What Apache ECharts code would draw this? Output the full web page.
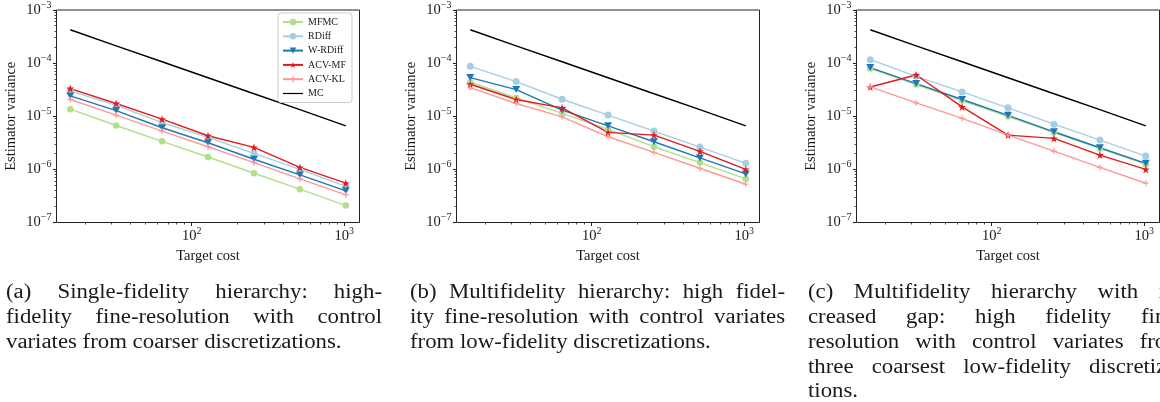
<!DOCTYPE html>
<html>
<head>
<meta charset="utf-8">
<script src="https://cdn.jsdelivr.net/npm/echarts/dist/echarts.min.js"></script>
<style>
html,body{margin:0;padding:0;background:#fff;}
#chart{width:1160px;height:402px;}
</style>
</head>
<body>
<div id="chart"></div>
<script>
// ---------------- data ----------------
const cost = [16, 32, 64, 128, 256, 512, 1024];
const seriesNames = ['MFMC', 'RDiff', 'W-RDiff', 'ACV-MF', 'ACV-KL', 'MC'];

// (a) single-fidelity hierarchy
const mfmcA   = [1.36e-5, 6.7e-6, 3.37e-6, 1.71e-6, 8.45e-7, 4.24e-7, 2.08e-7];
const rdiffA  = [3.0e-5, 1.6e-5, 7.6e-6, 4.0e-6, 2.0e-6, 1.0e-6, 4.8e-7];
const wrdiffA = [2.41e-5, 1.28e-5, 6.07e-6, 3.17e-6, 1.55e-6, 7.85e-7, 3.94e-7];
const acvmfA  = [3.32e-5, 1.74e-5, 8.8e-6, 4.29e-6, 2.6e-6, 1.09e-6, 5.5e-7];
const acvklA  = [2.07e-5, 1.05e-5, 5.25e-6, 2.67e-6, 1.34e-6, 6.6e-7, 3.31e-7];
const mcA     = [4.25e-4, 2.12e-4, 1.06e-4, 5.3e-5, 2.65e-5, 1.33e-5, 6.6e-6];

// (b) multifidelity hierarchy
const mfmcB   = [4.36e-5, 2.21e-5, 1.13e-5, 5.65e-6, 2.67e-6, 1.34e-6, 6.6e-7];
const rdiffB  = [8.7e-5, 4.5e-5, 2.09e-5, 1.05e-5, 5.25e-6, 2.63e-6, 1.30e-6];
const wrdiffB = [5.35e-5, 3.18e-5, 1.30e-5, 6.6e-6, 3.31e-6, 1.64e-6, 8.2e-7];
const acvmfB  = [4.0e-5, 2.07e-5, 1.44e-5, 4.97e-6, 4.42e-6, 2.19e-6, 1.0e-6];
const acvklB  = [3.47e-5, 1.74e-5, 9.75e-6, 4.11e-6, 2.09e-6, 1.05e-6, 5.25e-7];
const mcB     = [4.25e-4, 2.12e-4, 1.06e-4, 5.3e-5, 2.65e-5, 1.33e-5, 6.6e-6];

// (c) multifidelity hierarchy with increased gap
const mfmcC   = [7.9e-5, 3.95e-5, 1.98e-5, 9.9e-6, 4.95e-6, 2.48e-6, 1.24e-6];
const rdiffC  = [1.16e-4, 5.65e-5, 2.87e-5, 1.44e-5, 7.1e-6, 3.56e-6, 1.78e-6];
const wrdiffC = [8.24e-5, 4.12e-5, 2.07e-5, 1.04e-5, 5.1e-6, 2.55e-6, 1.30e-6];
const acvmfC  = [3.56e-5, 5.98e-5, 1.5e-5, 4.42e-6, 3.83e-6, 1.86e-6, 1.0e-6];
const acvklC  = [3.56e-5, 1.78e-5, 9.1e-6, 4.42e-6, 2.21e-6, 1.09e-6, 5.48e-7];
const mcC     = [4.25e-4, 2.12e-4, 1.06e-4, 5.3e-5, 2.65e-5, 1.33e-5, 6.6e-6];

// axis ranges and ticks
const xRange = [13.0, 1259];
const yRange = [1e-7, 1e-3];
const xMajorTicks = [100, 1000];
const xMinorTicks = [20, 30, 40, 50, 60, 70, 80, 90, 200, 300, 400, 500, 600, 700, 800, 900];
const yMajorTicks = [1e-7, 1e-6, 1e-5, 1e-4, 1e-3];
const yMinorTicks = [];
[-7, -6, -5, -4].forEach(e => { for (let k = 2; k <= 9; k++) yMinorTicks.push(k * Math.pow(10, e)); });

const xTitle = 'Target cost';
const yTitle = 'Estimator variance';

const captions = [
  ['(a) Single-fidelity hierarchy:  high-', 'fidelity fine-resolution with control', 'variates from coarser discretizations.'],
  ['(b) Multifidelity hierarchy: high fidel-', 'ity fine-resolution with control variates', 'from low-fidelity discretizations.'],
  ['(c) Multifidelity hierarchy with in-', 'creased gap:  high fidelity fine-', 'resolution with control variates from', 'three coarsest low-fidelity discretiza-', 'tions.']
];

const panels = [
  [mfmcA, rdiffA, wrdiffA, acvmfA, acvklA, mcA],
  [mfmcB, rdiffB, wrdiffB, acvmfB, acvklB, mcB],
  [mfmcC, rdiffC, wrdiffC, acvmfC, acvklC, mcC]
];

// ---------------- styling ----------------
const colors = ['#b2df8a', '#a6cee3', '#1f78b4', '#e31a1c', '#fb9a99', '#000000'];
const STAR = 'path://M50,0 L61.8,35.4 L99,35.4 L69,57.3 L80.3,92.7 L50,70.8 L19.7,92.7 L31,57.3 L1,35.4 L38.2,35.4 Z';
const TRI_DOWN = 'path://M0,0 L100,0 L50,87 Z';
const PLUS = 'path://M0,40 L100,40 L100,60 L0,60 Z M40,0 L60,0 L60,100 L40,100 Z';
const LINE_ICON = 'path://M0,0 M0,17 L100,17 L100,23 L0,23 Z M100,40';
const symbols = ['circle', 'circle', TRI_DOWN, STAR, PLUS, 'none'];
const symbolSizes = [6.5, 7, [8, 7], 8, 6, 0];
const SERIF = '"Liberation Serif", "Times New Roman", serif';
const TXT = '#1a1a1a';

function supStr(n) { return n < 0 ? '\u2212' + (-n) : String(n); }
function powLabel(val) {
  const e = Math.log10(val);
  const r = Math.round(e);
  if (Math.abs(e - r) > 1e-6) return '';
  return '{b|10}{s|' + supStr(r) + '}';
}
const richLbl = {
  b: { fontFamily: SERIF, fontSize: 14.5, lineHeight: 20, color: TXT },
  s: { fontFamily: SERIF, fontSize: 10, verticalAlign: 'top', color: TXT }
};

const gridLeft0 = 56.5, gridStep = 400, gridTop = 9.5, gridW = 303, gridH = 213;

const grids = [], xAxes = [], yAxes = [], series = [];
for (let i = 0; i < 3; i++) {
  grids.push({
    left: gridLeft0 + gridStep * i, top: gridTop, width: gridW, height: gridH,
    show: true, borderColor: '#222', borderWidth: 1, backgroundColor: 'transparent'
  });
  xAxes.push({
    type: 'log', logBase: 10, gridIndex: i, min: xRange[0], max: xRange[1],
    axisLine: { show: false }, axisTick: { show: false }, splitLine: { show: false },
    axisLabel: { formatter: powLabel, rich: richLbl, margin: 4, showMinLabel: false, showMaxLabel: false },
    name: xTitle, nameLocation: 'middle', nameGap: 21,
    nameTextStyle: { fontFamily: SERIF, fontSize: 14.5, color: TXT }
  });
  yAxes.push({
    type: 'log', logBase: 10, gridIndex: i, min: yRange[0], max: yRange[1], splitNumber: 4,
    axisLine: { show: false }, axisTick: { show: false }, splitLine: { show: false },
    axisLabel: { formatter: powLabel, rich: richLbl, margin: 5 },
    name: yTitle, nameLocation: 'middle', nameGap: 38,
    nameTextStyle: { fontFamily: SERIF, fontSize: 14.5, color: TXT }
  });
  panels[i].forEach((vals, k) => {
    series.push({
      type: 'line', name: seriesNames[k], xAxisIndex: i, yAxisIndex: i,
      data: cost.map((c, j) => [c, vals[j]]),
      symbol: symbols[k], symbolSize: symbolSizes[k], showSymbol: symbols[k] !== 'none',
      color: colors[k],
      lineStyle: { color: colors[k], width: 1.4 },
      itemStyle: { color: colors[k], borderWidth: 0 },
      emphasis: { disabled: true }, animation: false, z: 3
    });
  });
  // axis ticks (major / minor) drawn through the axis scales
  const tickData = [];
  xMajorTicks.forEach(v => tickData.push([v, yRange[0], 0]));
  xMinorTicks.forEach(v => tickData.push([v, yRange[0], 1]));
  yMajorTicks.forEach(v => tickData.push([xRange[0], v, 2]));
  yMinorTicks.forEach(v => tickData.push([xRange[0], v, 3]));
  series.push({
    type: 'custom', xAxisIndex: i, yAxisIndex: i, silent: true, clip: false, z: 5,
    data: tickData, animation: false,
    renderItem: function (params, api) {
      const p = api.coord([api.value(0), api.value(1)]);
      const k = api.value(2);
      const major = (k === 0 || k === 2);
      const len = major ? 3.5 : 2;
      let shape;
      if (k < 2) {
        const x = Math.round(p[0] - 0.5) + 0.5;
        shape = { x1: x, y1: p[1], x2: x, y2: p[1] + len };
      } else {
        const y = Math.round(p[1] - 0.5) + 0.5;
        shape = { x1: p[0] - len, y1: y, x2: p[0], y2: y };
      }
      return { type: 'line', shape: shape, style: { stroke: '#222', lineWidth: major ? 1 : 0.8 } };
    }
  });
}

// ---------------- captions (justified, word by word) ----------------
const CAP_FONT_SIZE = 20;
const CAP_FONT = CAP_FONT_SIZE + 'px "Liberation Serif"';
const CAP_SX = 1.14;
const capCols = [[6, 382], [410, 785], [808, 1184]];
const capLineY0 = 293, capLineStep = 24.8;
const mctx = document.createElement('canvas').getContext('2d');
mctx.font = CAP_FONT;
const graphics = [];
captions.forEach((lines, ci) => {
  const [x0, x1] = capCols[ci];
  const W = x1 - x0;
  lines.forEach((line, li) => {
    const words = line.split(/\s+/);
    const widths = words.map(w => mctx.measureText(w).width * CAP_SX);
    const total = widths.reduce((a, b) => a + b, 0);
    const last = li === lines.length - 1;
    const gap = (!last && words.length > 1) ? (W - total) / (words.length - 1)
                                            : mctx.measureText(' ').width * CAP_SX;
    let x = x0;
    const y = capLineY0 + li * capLineStep;
    words.forEach((w, wi) => {
      graphics.push({
        type: 'text', x: x, y: y, scaleX: CAP_SX, silent: true,
        style: { text: w, font: CAP_FONT, fill: TXT, align: 'left', verticalAlign: 'middle',
                 textAlign: 'left', textVerticalAlign: 'middle' }
      });
      x += widths[wi] + gap;
    });
  });
});

const legendData = seriesNames.map(n => n === 'MC' ? { name: n, icon: LINE_ICON } : { name: n });

const chart = echarts.init(document.getElementById('chart'), null, { renderer: 'canvas' });
chart.setOption({
  animation: false,
  backgroundColor: '#ffffff',
  grid: grids,
  xAxis: xAxes,
  yAxis: yAxes,
  legend: {
    data: legendData, orient: 'vertical', left: 278, top: 13,
    itemWidth: 20, itemHeight: 8, itemGap: 2.3, padding: [3, 6, 3, 4],
    selectedMode: false,
    textStyle: { fontFamily: SERIF, fontSize: 10, color: TXT, lineHeight: 12 },
    borderColor: '#cccccc', borderWidth: 1, borderRadius: 3,
    backgroundColor: 'rgba(255,255,255,0.85)'
  },
  series: series,
  graphic: graphics
});
</script>
</body>
</html>
